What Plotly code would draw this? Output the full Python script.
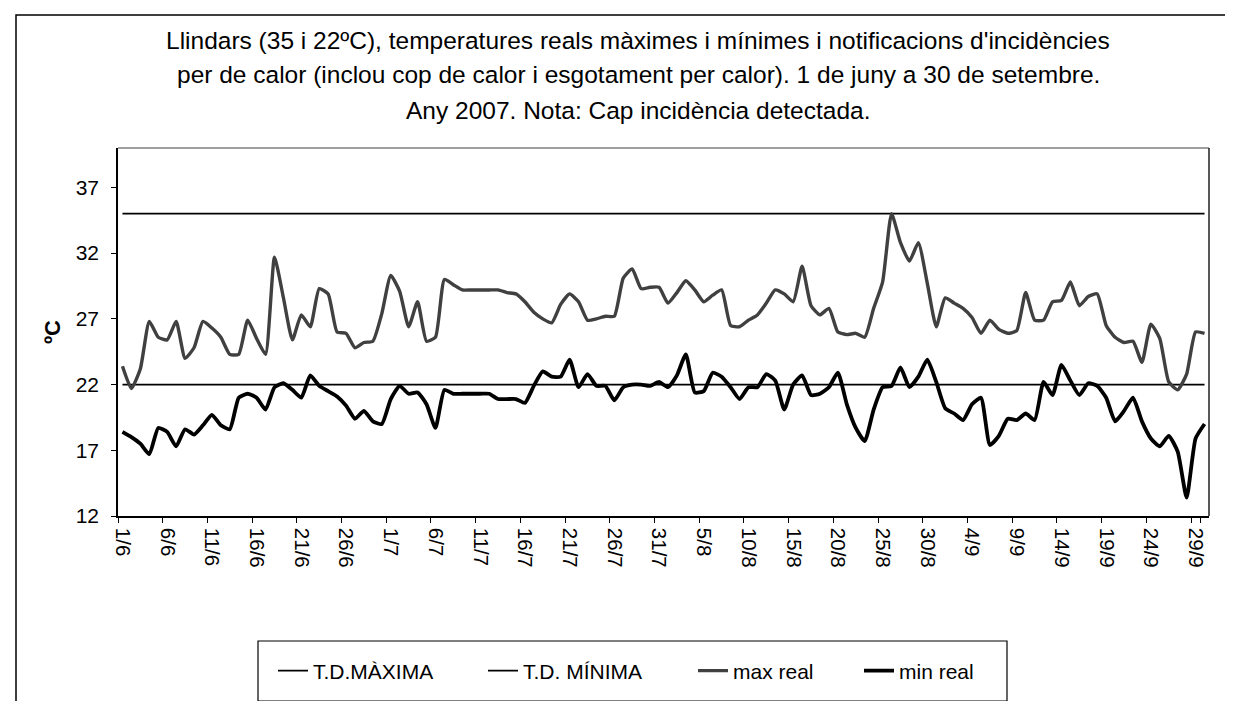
import datetime as dt
import plotly.graph_objects as go

# Categories: 1 June to 30 September 2007 (labels d/m)
start = dt.date(2007, 6, 1)
categories = [f"{(start + dt.timedelta(days=i)).day}/{(start + dt.timedelta(days=i)).month}" for i in range(122)]
tick_labels = categories[::5]

td_maxima = [35] * 122
td_minima = [22] * 122

max_real = [
    23.4, 21.7, 23.2, 26.8, 25.6, 25.4, 26.8, 24.0, 24.8, 26.8,
    26.3, 25.6, 24.3, 24.3, 26.9, 25.5, 24.3, 31.7, 28.6, 25.4,
    27.3, 26.4, 29.3, 28.9, 26.0, 25.9, 24.8, 25.2, 25.3, 27.4,
    30.3, 29.1, 26.4, 28.3, 25.3, 25.6, 30.0, 29.6, 29.2, 29.2,
    29.2, 29.2, 29.2, 29.0, 28.9, 28.3, 27.5, 27.0, 26.7, 28.1,
    28.9, 28.3, 26.9, 27.0, 27.2, 27.2, 30.1, 30.8, 29.3, 29.4,
    29.4, 28.2, 29.0, 29.9, 29.2, 28.3, 28.8, 29.2, 26.5, 26.4,
    26.9, 27.3, 28.2, 29.2, 28.9, 28.3, 31.0, 28.0, 27.3, 27.8,
    26.0, 25.8, 25.9, 25.6, 27.8, 29.8, 35.0, 32.8, 31.4, 32.8,
    29.7, 26.4, 28.6, 28.2, 27.8, 27.1, 25.9, 26.9, 26.2, 25.9,
    26.1, 29.0, 26.9, 26.9, 28.3, 28.4, 29.8, 28.0, 28.7, 28.9,
    26.5, 25.6, 25.2, 25.3, 23.7, 26.6, 25.5, 22.2, 21.6, 22.8,
    26.0, 25.9,
]

min_real = [
    18.4, 18.0, 17.5, 16.7, 18.7, 18.4, 17.3, 18.6, 18.2, 18.9,
    19.7, 18.9, 18.6, 21.0, 21.3, 21.0, 20.1, 21.8, 22.1, 21.6,
    21.0, 22.7, 21.9, 21.5, 21.1, 20.4, 19.4, 20.0, 19.2, 19.0,
    20.9, 21.9, 21.3, 21.4, 20.5, 18.7, 21.6, 21.3, 21.3, 21.3,
    21.3, 21.3, 20.9, 20.9, 20.9, 20.6, 21.9, 23.0, 22.6, 22.6,
    23.9, 21.8, 22.8, 21.9, 21.9, 20.8, 21.8, 22.0, 22.0, 21.9,
    22.2, 21.8, 22.7, 24.3, 21.4, 21.5, 22.9, 22.6, 21.8, 20.9,
    21.8, 21.8, 22.8, 22.3, 20.1, 22.0, 22.7, 21.2, 21.3, 21.8,
    22.9, 20.5, 18.7, 17.7, 20.1, 21.8, 21.9, 23.3, 21.8, 22.6,
    23.9, 22.2, 20.2, 19.8, 19.3, 20.5, 21.0, 17.4, 18.1, 19.4,
    19.3, 19.8, 19.3, 22.2, 21.2, 23.5, 22.3, 21.2, 22.1, 21.9,
    21.0, 19.2, 20.0, 21.0, 19.2, 17.9, 17.3, 18.1, 16.9, 13.4,
    17.9, 19.0,
]

y_ticks = [12, 17, 22, 27, 32, 37]

title_lines = [
    "Llindars (35 i 22ºC), temperatures reals màximes i mínimes i notificacions d'incidències",
    "per de calor (inclou cop de calor i esgotament per calor). 1 de juny a 30 de setembre.",
    "Any 2007. Nota: Cap incidència detectada.",
]

FONT = "Liberation Sans, Arial, sans-serif"

# plot area in pixels
L, R, T, B = 110, 1201, 140, 508
PW, PH = R - L, B - T


def px(xp):
    return (xp - L) / PW


def py(yp):
    return (B - yp) / PH


series = [
    ("T.D.MÀXIMA", td_maxima, "black", 1.8, "legend", 268),
    ("T.D. MÍNIMA", td_minima, "black", 1.8, "legend2", 478),
    ("max real", max_real, "#404040", 3.4, "legend3", 688),
    ("min real", min_real, "black", 3.8, "legend4", 854),
]

fig = go.Figure()
legends = {}
for name, vals, color, width, leg, lx in series:
    fig.add_trace(go.Scatter(x=categories, y=vals, mode="lines", name=name, legend=leg,
                             line=dict(color=color, width=width, shape="spline", smoothing=0.5)))
    legends[leg] = dict(orientation="h", x=px(lx - 3), xanchor="left", y=py(663), yanchor="middle",
                        font=dict(size=21, family=FONT, color="black"),
                        bgcolor="rgba(0,0,0,0)", borderwidth=0)

title_ann = [
    dict(text=t, xref="paper", yref="paper", x=px(630), y=py(yc), xanchor="center", yanchor="middle",
         showarrow=False, font=dict(size=24.5, family=FONT, color="black"))
    for t, yc in zip(title_lines, [32, 67, 102])
]

fig.update_layout(
    template="none",
    width=1233, height=701, autosize=False,
    margin=dict(l=L, r=1233 - R, t=T, b=701 - B, pad=0),
    paper_bgcolor="white", plot_bgcolor="white",
    font=dict(family=FONT, color="black"),
    showlegend=True,
    **legends,
    xaxis=dict(type="category", range=[-0.5, 121.5], tickmode="array", tickvals=tick_labels,
               ticktext=tick_labels, tickangle=90, ticks="outside", ticklen=5, tickson="boundaries",
               tickcolor="black", showline=True, linecolor="black", linewidth=1.5, showgrid=False,
               zeroline=False, automargin=False, tickfont=dict(size=20.5, family=FONT, color="black"),
               ticklabelstandoff=6),
    yaxis=dict(range=[12, 40], tickmode="array", tickvals=y_ticks, ticks="outside", ticklen=5,
               tickcolor="black", showline=True, linecolor="black", linewidth=1.5, showgrid=False,
               zeroline=False, automargin=False, tickfont=dict(size=21, family=FONT, color="black"),
               ticklabelstandoff=8),
    shapes=[
        dict(type="line", xref="paper", yref="paper", x0=0, x1=1, y0=1, y1=1,
             line=dict(color="#808080", width=1.5), layer="below"),
        dict(type="line", xref="paper", yref="paper", x0=1, x1=1, y0=0, y1=1,
             line=dict(color="#202020", width=1.5), layer="below"),
        dict(type="rect", xref="paper", yref="paper", x0=px(8), x1=px(1260), y0=py(720), y1=py(7),
             line=dict(color="black", width=1.5), layer="below"),
        dict(type="rect", xref="paper", yref="paper", x0=px(250), x1=px(999), y0=py(693), y1=py(633),
             line=dict(color="black", width=1.2), layer="below"),
    ],
    annotations=title_ann + [
        dict(text="<b>ºC</b>", xref="paper", yref="paper", x=px(44), y=0.5,
             xanchor="center", yanchor="middle", showarrow=False, textangle=-90,
             font=dict(size=22, family=FONT, color="black")),
    ],
)

fig.write_html("out.html")
